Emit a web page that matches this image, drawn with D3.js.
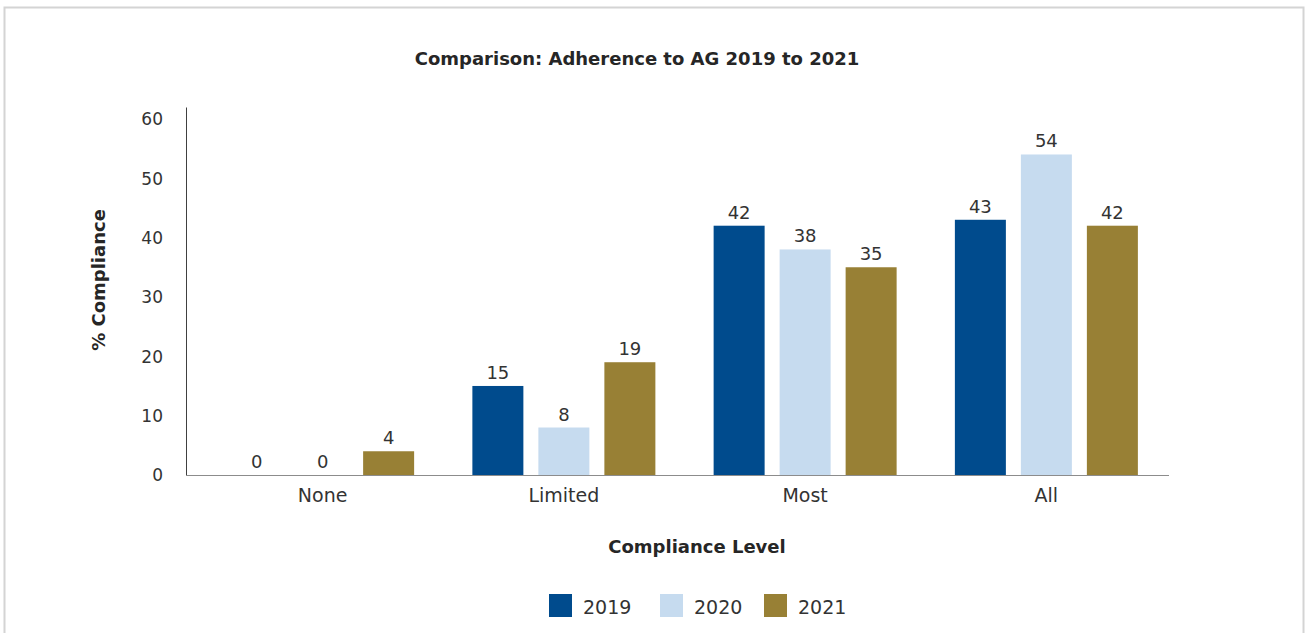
<!DOCTYPE html>
<html>
<head>
<meta charset="utf-8">
<script src="https://cdn.jsdelivr.net/npm/d3@7"></script>
<style>
  html, body { margin: 0; padding: 0; background: #fff; }
  svg { display: block; font-family: "DejaVu Sans", sans-serif; }
</style>
</head>
<body>
<svg id="chart" width="1306" height="633"></svg>
<script>
// Compliance levels and share (%) of adherence per year
const categories = ["None", "Limited", "Most", "All"];
const years = ["2019", "2020", "2021"];
const values2019 = [0, 15, 42, 43];
const values2020 = [0, 8, 38, 54];
const values2021 = [4, 19, 35, 42];
const yTicks = [0, 10, 20, 30, 40, 50, 60];
const colors = ["#004B8D", "#C6DBEF", "#988035"];

const seriesByYear = { "2019": values2019, "2020": values2020, "2021": values2021 };
const rows = categories.map((c, i) => ({
  category: c,
  bars: years.map(y => ({ year: y, value: seriesByYear[y][i] }))
}));

const svg = d3.select("#chart");
const textColor = "#333";

// outer frame
svg.append("rect")
  .attr("x", 4.5).attr("y", 7.5)
  .attr("width", 1299).attr("height", 660)
  .attr("fill", "none").attr("stroke", "#d4d4d4").attr("stroke-width", 2);

const x0 = d3.scaleBand().domain(categories).range([202, 1167]).padding(0);
const x1 = d3.scaleBand().domain(years)
  .range([(x0.bandwidth() - 183) / 2, (x0.bandwidth() + 183) / 2])
  .paddingInner(15 / 66).paddingOuter(0);
const y = d3.scaleLinear().domain([0, 62]).range([475, 107]);
const color = d3.scaleOrdinal().domain(years).range(colors);

// title
svg.append("text")
  .attr("x", 637).attr("y", 65)
  .attr("text-anchor", "middle")
  .attr("font-size", 18).attr("font-weight", "bold")
  .attr("fill", "#262626")
  .text("Comparison: Adherence to AG 2019 to 2021");

// y axis
const yAxis = svg.append("g")
  .attr("transform", "translate(186,0)")
  .call(d3.axisLeft(y).tickValues(yTicks).tickSize(0).tickSizeOuter(0).tickPadding(23));
yAxis.select(".domain").attr("stroke", "#404040").attr("stroke-width", 1);
yAxis.selectAll("text")
  .attr("font-size", 17).attr("fill", textColor)
  .attr("font-family", "DejaVu Sans, sans-serif")
  .attr("dy", "0.35em");

// bars
const groups = svg.append("g").selectAll("g")
  .data(rows).join("g")
  .attr("transform", d => `translate(${x0(d.category)},0)`);

groups.selectAll("rect")
  .data(d => d.bars).join("rect")
  .attr("x", d => x1(d.year))
  .attr("width", x1.bandwidth())
  .attr("y", d => y(d.value))
  .attr("height", d => y(0) - y(d.value))
  .attr("fill", d => color(d.year));

groups.selectAll("text")
  .data(d => d.bars).join("text")
  .attr("x", d => x1(d.year) + x1.bandwidth() / 2)
  .attr("y", d => y(d.value) - 7)
  .attr("text-anchor", "middle")
  .attr("font-size", 18).attr("fill", textColor)
  .text(d => d.value);

// x axis
svg.append("line")
  .attr("x1", 186).attr("x2", 1169)
  .attr("y1", 475.5).attr("y2", 475.5)
  .attr("stroke", "#8c8c8c").attr("stroke-width", 1);
const xAxis = svg.append("g")
  .attr("transform", "translate(0,475)")
  .call(d3.axisBottom(x0).tickSize(0).tickPadding(14));
xAxis.select(".domain").remove();
xAxis.selectAll("text")
  .attr("font-size", 19).attr("fill", textColor)
  .attr("font-family", "DejaVu Sans, sans-serif");

// axis titles
svg.append("text")
  .attr("transform", "translate(105,280) rotate(-90)")
  .attr("text-anchor", "middle")
  .attr("font-size", 18).attr("font-weight", "bold").attr("fill", "#262626")
  .text("% Compliance");

svg.append("text")
  .attr("x", 697).attr("y", 553)
  .attr("text-anchor", "middle")
  .attr("font-size", 18).attr("font-weight", "bold").attr("fill", "#262626")
  .text("Compliance Level");

// legend
const legendX = [549, 660, 764];
const legend = svg.append("g").selectAll("g")
  .data(years).join("g")
  .attr("transform", (d, i) => `translate(${legendX[i]},594)`);
legend.append("rect")
  .attr("width", 23).attr("height", 23)
  .attr("fill", d => color(d));
legend.append("text")
  .attr("x", 34).attr("y", 20)
  .attr("font-size", 19).attr("fill", textColor)
  .text(d => d);
</script>
</body>
</html>
